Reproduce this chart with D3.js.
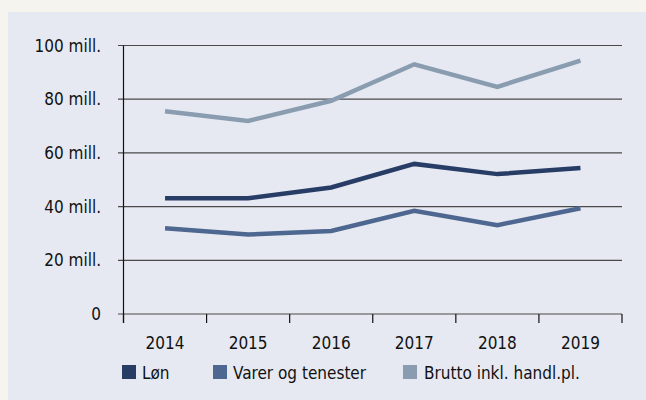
<!doctype html>
<html>

<head>
    <meta charset="utf-8">
    <title>chart</title>
    <script src="https://d3js.org/d3.v7.min.js"></script>
</head>

<style>
    body { margin: 0; background: #f5f4ef; }
    .axis text, .label { font-family: 'DejaVu Sans Condensed', 'DejaVu Sans', sans-serif; font-stretch: condensed; font-size: 17px; fill: #111; }
</style>

<body>

    <script>

    // data
    var years = ['2014', '2015', '2016', '2017', '2018', '2019'];
    var seriesNames = ['Løn', 'Varer og tenester', 'Brutto inkl. handl.pl.'];
    var lon = [43.1, 43.1, 47.1, 55.9, 52.1, 54.4];
    var varer = [31.9, 29.6, 30.9, 38.4, 33.1, 39.4];
    var brutto = [75.5, 71.9, 79.4, 93.0, 84.6, 94.4];
    var yTicks = [0, 20, 40, 60, 80, 100];
    var yTickLabels = ['0', '20 mill.', '40 mill.', '60 mill.', '80 mill.', '100 mill.'];
    var colors = ['#273d66', '#4d6790', '#8a9db0'];

    //set canvas parameters
    var canvasWidth = 646;
    var canvasHeight = 400;

    var svg = d3.select('body')
                .append('svg')
                .attr('width', canvasWidth)
                .attr('height', canvasHeight)
                .style('display', 'block');

    // panel background
    svg.append('rect')
       .attr('x', 8)
       .attr('y', 12)
       .attr('width', canvasWidth - 8)
       .attr('height', canvasHeight - 12)
       .attr('fill', '#e6e9f1');

    var xScale = d3.scaleBand()
                   .domain(years)
                   .range([123.5, 622])
                   .padding(0);

    var yScale = d3.scaleLinear()
                   .domain([0, 100])
                   .range([314, 45.5]);

    // gridlines
    svg.append('g')
       .selectAll('line')
       .data(yTicks)
       .enter()
       .append('line')
       .attr('x1', 118)
       .attr('x2', 622)
       .attr('y1', function(d) { return yScale(d); })
       .attr('y2', function(d) { return yScale(d); })
       .attr('stroke', '#4a4a4a')
       .attr('stroke-width', 1.2);

    // y labels
    svg.append('g')
       .attr('class', 'axis')
       .selectAll('text')
       .data(yTicks)
       .enter()
       .append('text')
       .attr('x', 101)
       .attr('y', function(d) { return yScale(d); })
       .attr('dy', '0.36em')
       .style('text-anchor', 'end')
       .text(function(d, i) { return yTickLabels[i]; });

    // y axis line
    svg.append('line')
       .attr('x1', 123.5)
       .attr('x2', 123.5)
       .attr('y1', yScale(100))
       .attr('y2', yScale(0) + 9)
       .attr('stroke', '#111')
       .attr('stroke-width', 1.2);

    // x ticks at band edges
    var edges = years.map(function(d) { return xScale(d); }).concat([xScale.range()[1]]);
    svg.append('g')
       .selectAll('line')
       .data(edges)
       .enter()
       .append('line')
       .attr('x1', function(d) { return d; })
       .attr('x2', function(d) { return d; })
       .attr('y1', yScale(0))
       .attr('y2', yScale(0) + 9)
       .attr('stroke', '#111')
       .attr('stroke-width', 1.2);

    // x labels
    svg.append('g')
       .attr('class', 'axis')
       .selectAll('text')
       .data(years)
       .enter()
       .append('text')
       .attr('x', function(d) { return xScale(d) + xScale.bandwidth() / 2; })
       .attr('y', 349)
       .style('text-anchor', 'middle')
       .text(function(d) { return d; });

    // lines
    var line = d3.line()
                 .x(function(d, i) { return xScale(years[i]) + xScale.bandwidth() / 2; })
                 .y(function(d) { return yScale(d); });

    svg.append('g')
       .selectAll('path')
       .data([brutto, varer, lon])
       .enter()
       .append('path')
       .attr('d', line)
       .attr('fill', 'none')
       .attr('stroke', function(d, i) { return colors[2 - i]; })
       .attr('stroke-width', 4.5)
       .attr('stroke-linejoin', 'miter');

    // legend
    var legendX = [122, 213, 403];
    var legend = svg.append('g')
                    .selectAll('g')
                    .data(seriesNames)
                    .enter()
                    .append('g')
                    .attr('transform', function(d, i) { return 'translate(' + legendX[i] + ', 365)'; });

    legend.append('rect')
          .attr('width', 14)
          .attr('height', 14)
          .attr('fill', function(d, i) { return colors[i]; });

    legend.append('text')
          .attr('class', 'label')
          .attr('x', function(d, i) { return i == 2 ? 21 : 20; })
          .attr('y', 14)
          .text(function(d) { return d; });

    </script>

</body>

</html>
